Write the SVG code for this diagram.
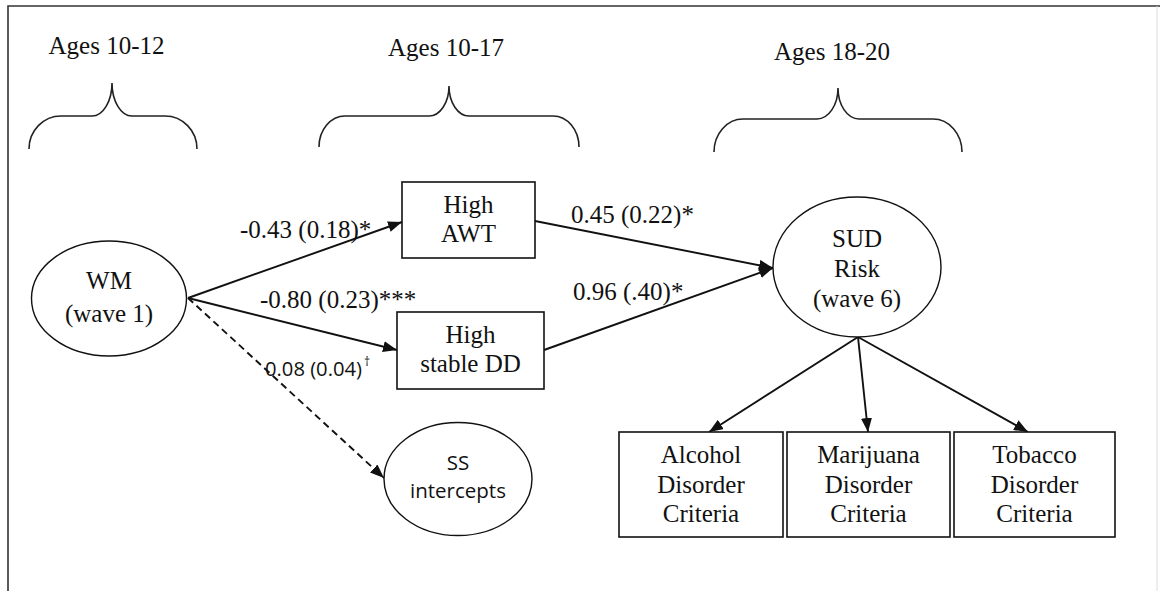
<svg xmlns="http://www.w3.org/2000/svg" width="1160" height="591" viewBox="0 0 1160 591">
<defs>
<style>
.t{font-family:"Liberation Serif","Times New Roman",serif;font-size:25px;fill:#111;text-anchor:middle}
.l{font-family:"Liberation Serif","Times New Roman",serif;font-size:25px;fill:#111}
.s{font-family:"Open Sans","Noto Sans",sans-serif;fill:#111}
.box{fill:#fff;stroke:#111;stroke-width:1.6}
.ell{fill:#fff;stroke:#111;stroke-width:1.4}
.br{fill:none;stroke:#222;stroke-width:1.6}
.c{fill:none;stroke:#111;stroke-width:1.9}
</style>
<marker id="ah" markerUnits="userSpaceOnUse" markerWidth="16" markerHeight="12" refX="14" refY="5.5" orient="auto">
<path d="M0,0 L14,5.5 L0,11 z" fill="#111"/>
</marker>
</defs>
<rect width="1160" height="591" fill="#fff"/>
<path d="M8,591 L8,6 L1160,6" fill="none" stroke="#333" stroke-width="1.6"/>
<line x1="1157" y1="6" x2="1157" y2="591" stroke="#ddd" stroke-width="1"/>

<g id="period1">
<text class="t" x="106.5" y="54">Ages 10-12</text>
<path class="br" d="M29,149 A32,33 0 0 1 61,116 L92,116 A20,33 0 0 0 112,83 A20,33 0 0 0 132,116 L165,116 A32,33 0 0 1 197,149"/>
</g>
<g id="period2">
<text class="t" x="446" y="56">Ages 10-17</text>
<path class="br" d="M319,147 A26,31 0 0 1 345,116 L429,116 A20,30 0 0 0 449,86 A20,30 0 0 0 469,116 L553,116 A26,31 0 0 1 579,147"/>
</g>
<g id="period3">
<text class="t" x="832" y="60">Ages 18-20</text>
<path class="br" d="M714,152 A29,33 0 0 1 743,119 L817,119 A21,31 0 0 0 838,88 A21,31 0 0 0 859,119 L933,119 A29,33 0 0 1 962,152"/>
</g>

<g id="connectors">
<line class="c" x1="188" y1="298" x2="402" y2="222" marker-end="url(#ah)"/>
<line class="c" x1="188" y1="298" x2="397" y2="350" marker-end="url(#ah)"/>
<line class="c" x1="188" y1="298" x2="384" y2="478" stroke-dasharray="7 4.5" marker-end="url(#ah)"/>
<line class="c" x1="535" y1="221" x2="773" y2="268" marker-end="url(#ah)"/>
<line class="c" x1="544" y1="350" x2="773" y2="268" marker-end="url(#ah)"/>
<line class="c" x1="858" y1="337" x2="709" y2="432" marker-end="url(#ah)"/>
<line class="c" x1="858" y1="337" x2="868" y2="432" marker-end="url(#ah)"/>
<line class="c" x1="858" y1="337" x2="1028" y2="432" marker-end="url(#ah)"/>
<text class="l" x="240" y="238">-0.43 (0.18)*</text>
<text class="l" x="260" y="308">-0.80 (0.23)***</text>
<text class="s" x="265" y="376" font-size="20.5" textLength="97" lengthAdjust="spacingAndGlyphs">0.08 (0.04)</text>
<text class="s" x="364" y="366" font-size="12">†</text>
<text class="l" x="571" y="223">0.45 (0.22)*</text>
<text class="l" x="573" y="300">0.96 (.40)*</text>
</g>

<g id="wm">
<ellipse class="ell" cx="109" cy="298.5" rx="77.5" ry="57.5"/>
<text class="t" x="109" y="289">WM</text>
<text class="t" x="109" y="322">(wave 1)</text>
</g>
<g id="awt">
<rect class="box" x="402" y="182" width="133" height="76"/>
<text class="t" x="468.5" y="213">High</text>
<text class="t" x="468.5" y="242">AWT</text>
</g>
<g id="dd">
<rect class="box" x="397" y="312" width="147" height="77"/>
<text class="t" x="470.5" y="343">High</text>
<text class="t" x="470.5" y="372">stable DD</text>
</g>
<g id="ss">
<ellipse class="ell" cx="458" cy="479" rx="74" ry="56.5"/>
<text class="s" x="458" y="470" font-size="20.5" text-anchor="middle">SS</text>
<text class="s" x="458" y="498" font-size="20.5" text-anchor="middle">intercepts</text>
</g>
<g id="sud">
<ellipse class="ell" cx="857" cy="267" rx="84" ry="70"/>
<text class="t" x="857" y="247">SUD</text>
<text class="t" x="857" y="277">Risk</text>
<text class="t" x="857" y="307">(wave 6)</text>
</g>
<g id="alcohol">
<rect class="box" x="619" y="432" width="164" height="105"/>
<text class="t" x="701" y="463">Alcohol</text>
<text class="t" x="701" y="493">Disorder</text>
<text class="t" x="701" y="522">Criteria</text>
</g>
<g id="marijuana">
<rect class="box" x="787" y="432" width="163" height="105"/>
<text class="t" x="868.5" y="463">Marijuana</text>
<text class="t" x="868.5" y="493">Disorder</text>
<text class="t" x="868.5" y="522">Criteria</text>
</g>
<g id="tobacco">
<rect class="box" x="954" y="432" width="161" height="105"/>
<text class="t" x="1034.5" y="463">Tobacco</text>
<text class="t" x="1034.5" y="493">Disorder</text>
<text class="t" x="1034.5" y="522">Criteria</text>
</g>
</svg>
